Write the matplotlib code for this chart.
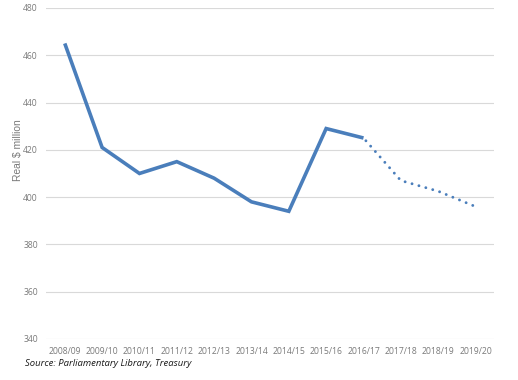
import matplotlib
matplotlib.use('Agg')
import matplotlib.pyplot as plt

plt.rcParams['font.family'] = ['Open Sans', 'DejaVu Sans']

years = ['2008/09', '2009/10', '2010/11', '2011/12', '2012/13', '2013/14',
         '2014/15', '2015/16', '2016/17', '2017/18', '2018/19', '2019/20']
actual = [465, 421, 410, 415, 408, 398, 394, 429, 425]
forecast = [425, 407, 402.5, 396]

blue = '#4a7ebb'

fig = plt.figure(figsize=(5.18, 3.8), dpi=100)
ax = fig.add_axes([0.089, 0.108, 0.865, 0.871])

x_all = list(range(len(years)))
ax.plot(x_all[:len(actual)], actual, color=blue, linewidth=2.6,
        solid_joinstyle='miter', solid_capstyle='butt', zorder=3)
# forecast part, round dots
ax.plot(x_all[len(actual) - 1:], forecast, color=blue, linewidth=2.1,
        linestyle=(1.2, (0.01, 2.45)), dash_capstyle='round', zorder=3)

ax.set_xlim(-0.5, len(years) - 0.5)
ax.set_ylim(340, 480)
ax.set_yticks(range(340, 481, 20))
ax.set_xticks(x_all)
ax.set_xticklabels(years)
ax.grid(axis='y', color='#d9d9d9', linewidth=0.8)
ax.set_axisbelow(True)
for s in ax.spines.values():
    s.set_visible(False)
ax.tick_params(length=0, labelsize=6.2, colors='#7a7a7a', pad=6)
ax.set_ylabel('Real $ million', fontsize=7.4, color='#7a7a7a',
              family=['Liberation Sans', 'DejaVu Sans'])
ax.yaxis.set_label_coords(-0.052, 0.57)

fig.text(0.048, 0.038, 'Source: Parliamentary Library, Treasury', fontsize=6.8,
         style='italic', color='#1a1a1a')

fig.savefig('out.png', dpi=100, facecolor='white')
